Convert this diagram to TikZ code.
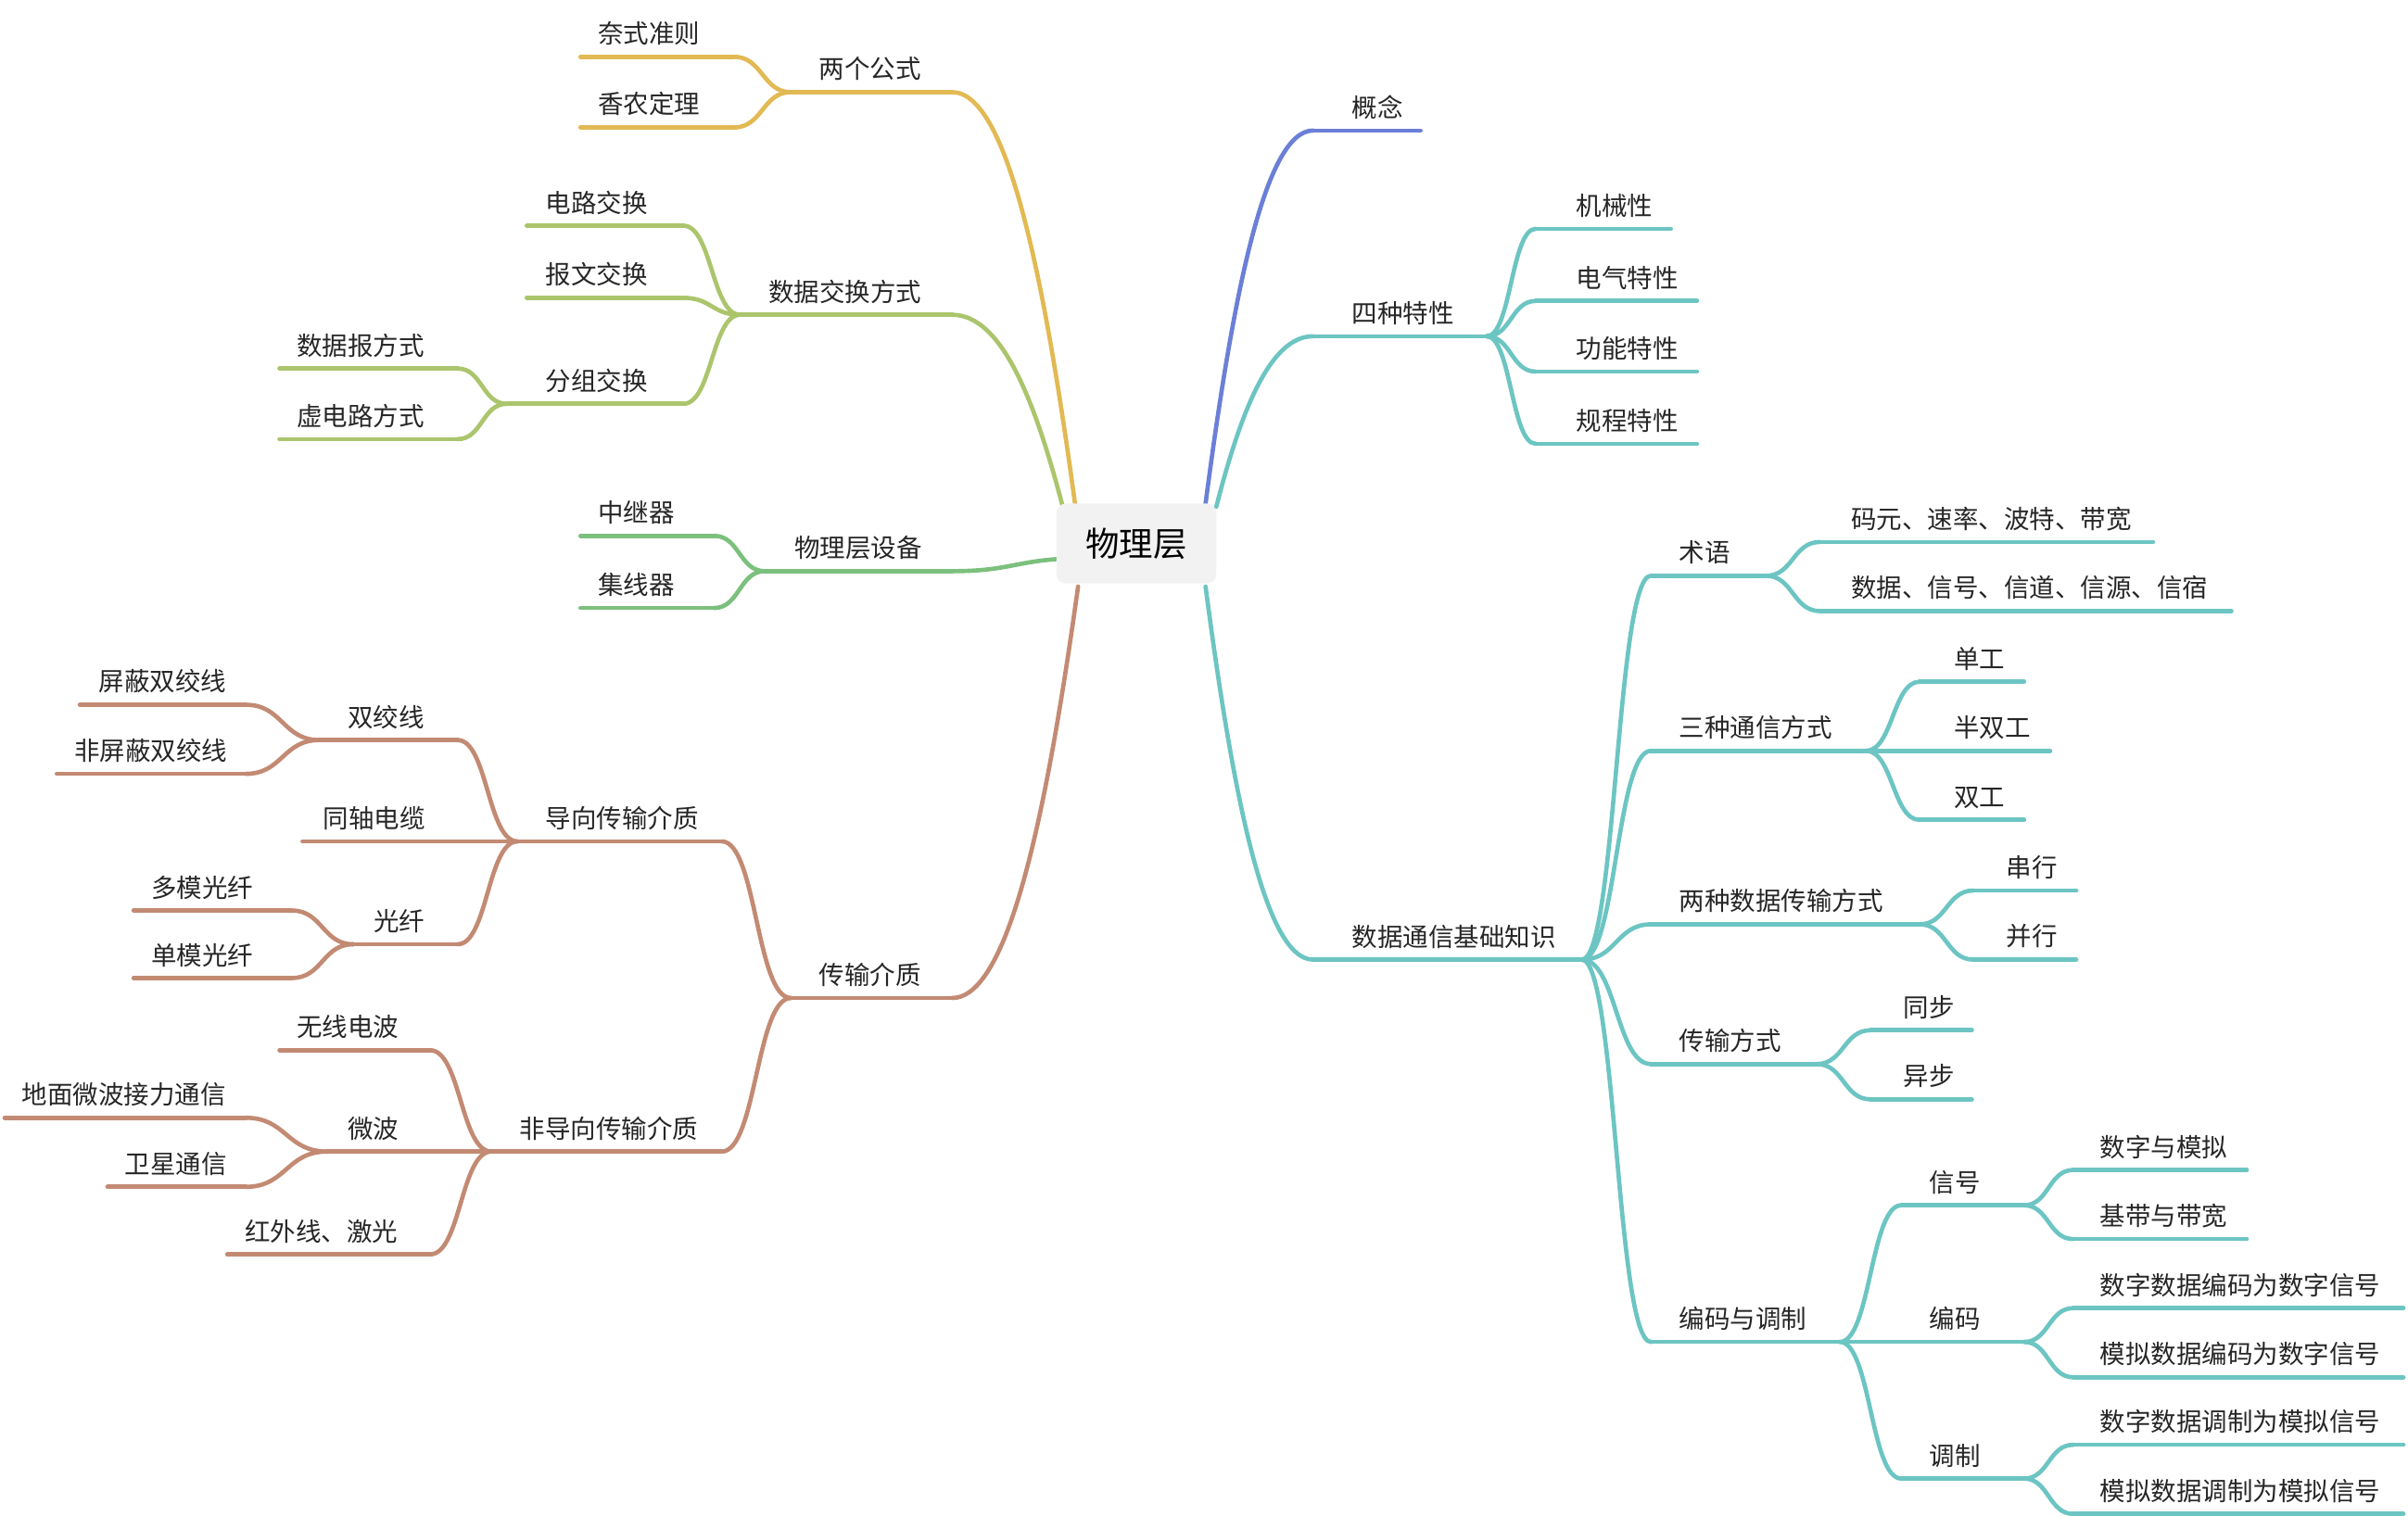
\documentclass[tikz,border=0pt]{standalone}
\usepackage{fontspec}
\setmainfont{Noto Sans CJK SC}
\usetikzlibrary{calc}
\definecolor{cY}{HTML}{E2B953}
\definecolor{cL}{HTML}{ABC56C}
\definecolor{cG}{HTML}{7CC07E}
\definecolor{cB}{HTML}{C38A73}
\definecolor{cT}{HTML}{6CC5C2}
\definecolor{cU}{HTML}{6B7FD7}
\tikzset{br/.style={line width=1.4pt,line cap=round},
 lbl/.style={inner sep=0pt,font=\fontsize{8.3}{10}\selectfont,text=black!85}}
\newcommand\mmnode[7]{%
 \coordinate (#1-L) at (#2,#4); \coordinate (#1-R) at (#3,#4);
 \draw[br,#7] (#1-L) -- (#1-R);
 \node[lbl,anchor=south west] (#1) at (#5,#4-7) {#6};}
\newcommand\mmlink[3]{%
 \draw[br,#1] let \p1=(#2),\p2=(#3) in (\p1) .. controls ({(\x1+\x2)/2},\y1) and ({(\x1+\x2)/2},\y2) .. (\p2);}
\newcommand\mmroot[3]{%
 \draw[br,#1] let \p1=(#2),\p2=(#3) in (\p1) .. controls ({\x1+0.25*(\x2-\x1)},{\y1+0.55*(\y2-\y1)}) and ({\x1+0.55*(\x2-\x1)},\y2) .. (\p2);}
\begin{document}
\begin{tikzpicture}[x=0.5pt,y=-0.5pt]
\useasboundingbox (0,0) rectangle (1568,987);
% root
\coordinate (r1) at (785,328); \coordinate (r2) at (792,330); \coordinate (r3) at (785,382);
\coordinate (l1) at (700,328); \coordinate (l2) at (692,330); \coordinate (l3) at (690,364); \coordinate (l4) at (702,382);
% right side
\mmnode{gn}{855}{925}{85}{880}{概念}{cU}
\mmroot{cU}{r1}{gn-L}
\mmnode{sz}{855}{968}{219}{880}{四种特性}{cT}
\mmroot{cT}{r2}{sz-L}
\mmnode{jx}{1000}{1088}{149}{1026}{机械性}{cT}
\mmnode{dq}{1000}{1105}{196}{1026}{电气特性}{cT}
\mmnode{gnt}{1000}{1105}{242}{1026}{功能特性}{cT}
\mmnode{gc}{1000}{1105}{289}{1026}{规程特性}{cT}
\foreach \c in {jx,dq,gnt,gc}{\mmlink{cT}{sz-R}{\c-L}}
\mmnode{sj}{855}{1030}{625}{880}{数据通信基础知识}{cT}
\mmroot{cT}{r3}{sj-L}
\mmnode{sy}{1075}{1150}{375}{1093}{术语}{cT}
\mmnode{sy1}{1185}{1402}{353}{1205}{码元、速率、波特、带宽}{cT}
\mmnode{sy2}{1185}{1453}{398}{1205}{数据、信号、信道、信源、信宿}{cT}
\mmlink{cT}{sy-R}{sy1-L}\mmlink{cT}{sy-R}{sy2-L}
\mmnode{tx}{1075}{1215}{489}{1093}{三种通信方式}{cT}
\mmnode{tx1}{1250}{1318}{444}{1272}{单工}{cT}
\mmnode{tx2}{1250}{1335}{489}{1272}{半双工}{cT}
\mmnode{tx3}{1250}{1318}{534}{1272}{双工}{cT}
\foreach \c in {tx1,tx2,tx3}{\mmlink{cT}{tx-R}{\c-L}}
\mmnode{cs}{1075}{1250}{602}{1093}{两种数据传输方式}{cT}
\mmnode{cs1}{1285}{1352}{580}{1306}{串行}{cT}
\mmnode{cs2}{1285}{1352}{625}{1306}{并行}{cT}
\mmlink{cT}{cs-R}{cs1-L}\mmlink{cT}{cs-R}{cs2-L}
\mmnode{fs}{1075}{1183}{693}{1093}{传输方式}{cT}
\mmnode{fs1}{1218}{1284}{671}{1239}{同步}{cT}
\mmnode{fs2}{1218}{1284}{716}{1239}{异步}{cT}
\mmlink{cT}{fs-R}{fs1-L}\mmlink{cT}{fs-R}{fs2-L}
\mmnode{bm}{1075}{1198}{874}{1093}{编码与调制}{cT}
\mmnode{xh}{1238}{1318}{785}{1256}{信号}{cT}
\mmnode{bc}{1238}{1318}{874}{1256}{编码}{cT}
\mmnode{tz}{1238}{1318}{963}{1256}{调制}{cT}
\foreach \c in {xh,bc,tz}{\mmlink{cT}{bm-R}{\c-L}}
\mmnode{xh1}{1350}{1463}{762}{1367}{数字与模拟}{cT}
\mmnode{xh2}{1350}{1463}{807}{1367}{基带与带宽}{cT}
\mmlink{cT}{xh-R}{xh1-L}\mmlink{cT}{xh-R}{xh2-L}
\mmnode{bc1}{1350}{1565}{852}{1367}{数字数据编码为数字信号}{cT}
\mmnode{bc2}{1350}{1565}{897}{1367}{模拟数据编码为数字信号}{cT}
\mmlink{cT}{bc-R}{bc1-L}\mmlink{cT}{bc-R}{bc2-L}
\mmnode{tz1}{1350}{1565}{941}{1367}{数字数据调制为模拟信号}{cT}
\mmnode{tz2}{1350}{1565}{986}{1367}{模拟数据调制为模拟信号}{cT}
\mmlink{cT}{tz-R}{tz1-L}\mmlink{cT}{tz-R}{tz2-L}
\foreach \c in {sy,tx,cs,fs,bm}{\mmlink{cT}{sj-R}{\c-L}}
% left side
\mmnode{lg}{515}{620}{60}{533}{两个公式}{cY}
\mmroot{cY}{l1}{lg-R}
\mmnode{nq}{378}{478}{37}{389}{奈式准则}{cY}
\mmnode{xn}{378}{478}{83}{389}{香农定理}{cY}
\mmlink{cY}{lg-L}{nq-R}\mmlink{cY}{lg-L}{xn-R}
\mmnode{jh}{482}{620}{205}{500}{数据交换方式}{cL}
\mmroot{cL}{l2}{jh-R}
\mmnode{dl}{343}{445}{147}{355}{电路交换}{cL}
\mmnode{bw}{343}{445}{194}{355}{报文交换}{cL}
\mmnode{fz}{330}{445}{263}{355}{分组交换}{cL}
\foreach \c in {dl,bw,fz}{\mmlink{cL}{jh-L}{\c-R}}
\mmnode{sjb}{182}{298}{240}{193}{数据报方式}{cL}
\mmnode{xdl}{182}{298}{286}{193}{虚电路方式}{cL}
\mmlink{cL}{fz-L}{sjb-R}\mmlink{cL}{fz-L}{xdl-R}
\mmnode{sb}{498}{620}{372}{517}{物理层设备}{cG}
\draw[br,cG] (l3) .. controls (660,366) and (655,372) .. (sb-R);
\mmnode{zj}{378}{465}{349}{389}{中继器}{cG}
\mmnode{jx2}{378}{465}{396}{389}{集线器}{cG}
\mmlink{cG}{sb-L}{zj-R}\mmlink{cG}{sb-L}{jx2-R}
\mmnode{cm}{515}{620}{650}{533}{传输介质}{cB}
\mmroot{cB}{l4}{cm-R}
\mmnode{dx}{337}{470}{548}{355}{导向传输介质}{cB}
\mmnode{fd}{320}{470}{750}{338}{非导向传输介质}{cB}
\mmlink{cB}{cm-L}{dx-R}\mmlink{cB}{cm-L}{fd-R}
\mmnode{sjx}{208}{298}{482}{226}{双绞线}{cB}
\mmnode{tz0}{197}{337}{548}{210}{同轴电缆}{cB}
\mmnode{gx}{230}{298}{615}{243}{光纤}{cB}
\mmlink{cB}{dx-L}{sjx-R}\mmlink{cB}{dx-L}{gx-R}
\mmnode{pb}{52}{160}{459}{64}{屏蔽双绞线}{cB}
\mmnode{fpb}{37}{160}{504}{48}{非屏蔽双绞线}{cB}
\mmlink{cB}{sjx-L}{pb-R}\mmlink{cB}{sjx-L}{fpb-R}
\mmnode{dm}{87}{190}{593}{98}{多模光纤}{cB}
\mmnode{dm2}{87}{190}{637}{98}{单模光纤}{cB}
\mmlink{cB}{gx-L}{dm-R}\mmlink{cB}{gx-L}{dm2-R}
\mmnode{wx}{182}{280}{684}{193}{无线电波}{cB}
\mmnode{wb}{213}{280}{750}{226}{微波}{cB}
\mmnode{hw}{148}{280}{817}{159}{红外线、激光}{cB}
\foreach \c in {wx,wb,hw}{\mmlink{cB}{fd-L}{\c-R}}
\mmnode{dmw}{3}{160}{728}{14}{地面微波接力通信}{cB}
\mmnode{wt}{70}{160}{773}{81}{卫星通信}{cB}
\mmlink{cB}{wb-L}{dmw-R}\mmlink{cB}{wb-L}{wt-R}
% root box
\node[fill=black!5,rounded corners=3pt,minimum width=52pt,minimum height=26pt,font=\fontsize{11}{13}\selectfont] (root) at (740,354) {物理层};
\end{tikzpicture}
\end{document}
